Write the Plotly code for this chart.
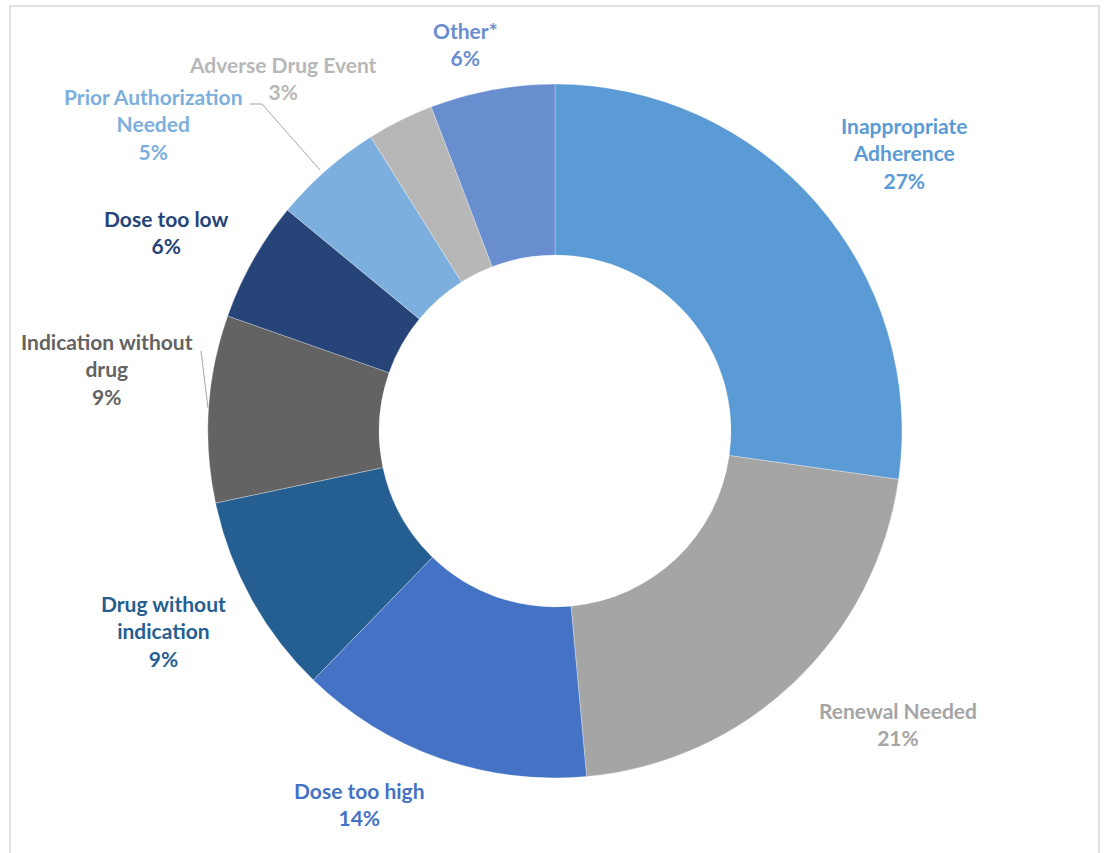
import plotly.graph_objects as go

# ---- data ----
categories = ["Inappropriate Adherence", "Renewal Needed", "Dose too high",
              "Drug without indication", "Indication without drug", "Dose too low",
              "Prior Authorization Needed", "Adverse Drug Event", "Other*"]
shares = [27.2, 21.3, 13.7, 9.4, 8.7, 5.6, 5.1, 3.1, 5.8]
label_lines = ["Inappropriate<br>Adherence", "Renewal Needed", "Dose too high",
               "Drug without<br>indication", "Indication without<br>drug", "Dose too low",
               "Prior Authorization<br>Needed", "Adverse Drug Event", "Other*"]
colors = ["#5B9BD5", "#A5A5A5", "#4472C4", "#255E91", "#636363", "#264478",
          "#7CAFDD", "#B7B7B7", "#698ED0"]

W, H = 1110, 853
cx, cy, R = 555, 431, 347

# label anchor positions in pixels (center x, top-line center y)
label_pos = [(904, 127), (898, 712), (359, 792), (163, 605), (107, 343),
             (166, 220), (153, 98), (283, 66), (465, 32)]

fig = go.Figure()
fig.add_trace(go.Pie(
    labels=categories, values=shares, sort=False, direction="clockwise",
    rotation=0, hole=0.507, textinfo="none", hoverinfo="label+percent",
    marker=dict(colors=colors, line=dict(color="rgba(255,255,255,0.6)", width=0.5)),
    domain=dict(x=[(cx - R) / W, (cx + R) / W], y=[(H - cy - R) / H, (H - cy + R) / H]),
    showlegend=False,
))

total = sum(shares)
line_h = 28.5
annotations = []
for name, val, col, (px, py) in zip(label_lines, shares, colors, label_pos):
    txt = f"{name}<br>{round(val / total * 100)}%"
    top = py - line_h / 2 - 2
    annotations.append(dict(
        x=px / W, y=1 - top / H, xref="paper", yref="paper",
        xanchor="center", yanchor="top", showarrow=False, align="center",
        text=f"<b>{txt}</b>", font=dict(family="Lato", size=21, color=col),
    ))

shapes = [
    dict(type="rect", xref="paper", yref="paper", x0=10 / W, x1=1099 / W,
         y0=-0.02, y1=1 - 6 / H, line=dict(color="#D9D9D9", width=1.5)),
    # leader lines
    dict(type="path", xref="paper", yref="paper",
         path=f"M {320 / W} {1 - 170 / H} L {262 / W} {1 - 104 / H} L {250 / W} {1 - 104 / H}",
         line=dict(color="#A6A6A6", width=1)),
    dict(type="line", xref="paper", yref="paper", x0=201 / W, y0=1 - 351 / H,
         x1=208 / W, y1=1 - 408 / H, line=dict(color="#A6A6A6", width=1)),
]

fig.update_layout(
    width=W, height=H, margin=dict(l=0, r=0, t=0, b=0),
    paper_bgcolor="white", plot_bgcolor="white",
    annotations=annotations, shapes=shapes,
)
fig.write_html("out.html")
